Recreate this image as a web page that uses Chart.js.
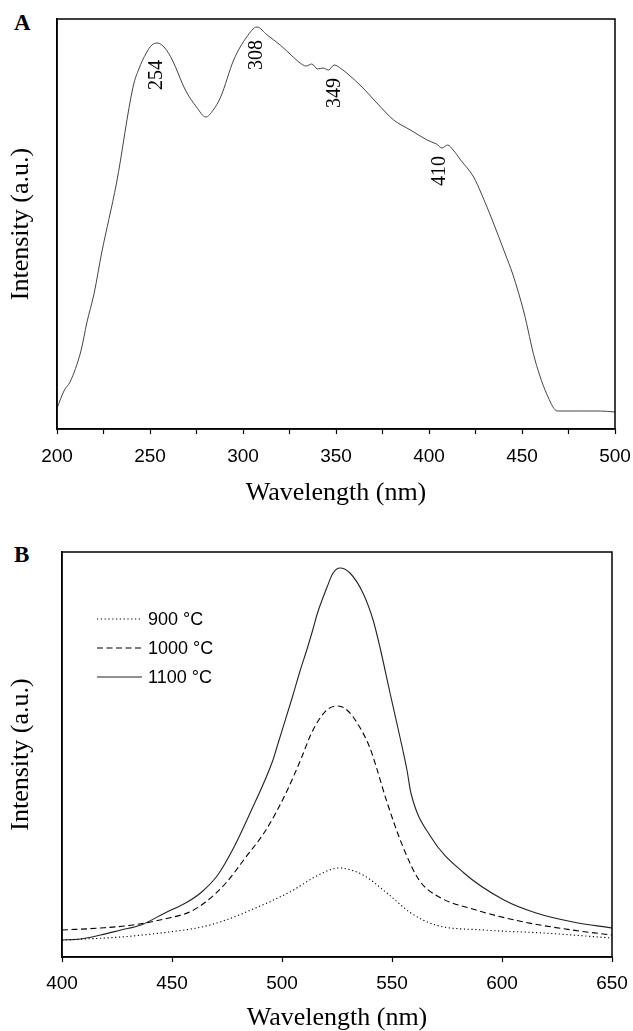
<!DOCTYPE html>
<html>
<head>
<meta charset="utf-8">
<script src="https://cdn.jsdelivr.net/npm/chart.js@4.4.1/dist/chart.umd.min.js"></script>
<style>
  body { margin: 0; background: #fff; width: 633px; height: 1031px; position: relative; overflow: hidden; }
  .box { position: absolute; left: 0; width: 633px; }
  #boxA { top: 0; height: 520px; }
  #boxB { top: 520px; height: 511px; }
  .tag { position: absolute; font: bold 23px "Liberation Serif", serif; color: #000; }
</style>
</head>
<body>
<div class="tag" style="left:14px;top:10px;">A</div>
<div class="tag" style="left:14px;top:542px;">B</div>
<div class="box" id="boxA"><canvas id="chartA" width="633" height="520"></canvas></div>
<div class="box" id="boxB"><canvas id="chartB" width="633" height="511"></canvas></div>
<script>
// panel A: excitation spectrum
const wavelengthA = [200,204,207,213,216,220,224,232,241,244,248,251,254,258,262,269,275,280,284,288,
  295,302,307.5,313,320,327,330,334,337,340,343,346,349,353,357,364,372,381,390,399,
  404,407,410,413,417,424,428,434,441,445,451,457,464,469,480,492,500];
const intensityA = [21,39,47,79,106,136,176,246,343,360,376,384,386,381,369,339,322,312,319,332,
  369,392,402,394,384,372,367,363,365,360,361,359,364,360,354,342,326,309,299,289,
  285,281,284,279,269,252,236,209,175,155,117,69,32,18,18,18,17];
const peakLabels = ["254", "308", "349", "410"];
const peakWavelength = [253.8, 307.5, 349.5, 405.9];
const peakIntensity = [354, 374, 336, 258];

// panel B: emission spectra
const seriesNames = ["900 \u00B0C", "1000 \u00B0C", "1100 \u00B0C"];
const wl900 = [400,426.8,448.6,463.5,474.5,489,503.6,516.6,525.8,536.8,547.7,558.6,569.8,591.8,619,650];
const int900 = [17,20,25,30,37,50,65,82,89,82,64,44,32,27,24,19];
const wl1000 = [400,417.7,432.3,448.6,458,465.3,474.5,483.6,492.7,501.8,509,513,517,521,525.5,
  530,535,540,543,547.7,555,562.3,569.8,588.2,610,631.8,650];
const int1000 = [27,29,32,39,45,55,74,100,127,164,200,222,238,248,251,
  246,231,209,189,155,110,77,62,47,35,27,22];
const wl1100 = [400,408.5,417.6,426.8,435.9,446.8,457,463.5,470.8,478.2,485.5,495.9,497.7,505,508.2,
  511.4,514.1,516,520.5,523.2,526.4,530.9,536.8,541.4,544.5,549.1,553.6,556.8,558.6,567.7,
  582.7,600.9,615.5,632.3,650];
const int1100 = [17,18,22,27,32,44,55,65,82,110,144,197,210,262,286,
  308,328,343,370,384,389,384,364,337,310,264,220,187,164,120,
  84,57,44,35,29];

const toPoints = (xs, ys) => xs.map((x, i) => ({ x: x, y: ys[i] }));

const serif = "'Liberation Serif', 'Times New Roman', serif";
const sans = "'Liberation Sans', Arial, sans-serif";

const framePlugin = {
  id: "frame",
  afterDraw(chart) {
    const { ctx, chartArea } = chart;
    ctx.save();
    ctx.strokeStyle = "#000";
    ctx.lineWidth = 1.5;
    ctx.strokeRect(chartArea.left, chartArea.top, chartArea.right - chartArea.left, chartArea.bottom - chartArea.top);
    ctx.restore();
  },
};

const peakPlugin = {
  id: "peaks",
  afterDatasetsDraw(chart) {
    const { ctx, scales } = chart;
    ctx.save();
    ctx.font = "20px " + serif;
    ctx.fillStyle = "#000";
    ctx.textAlign = "center";
    ctx.textBaseline = "middle";
    peakLabels.forEach((txt, i) => {
      const px = scales.x.getPixelForValue(peakWavelength[i]);
      const py = scales.y.getPixelForValue(peakIntensity[i]);
      ctx.save();
      ctx.translate(px, py);
      ctx.rotate(-Math.PI / 2);
      ctx.fillText(txt, 0, 0);
      ctx.restore();
    });
    ctx.restore();
  },
};

const legendPlugin = {
  id: "lineLegend",
  afterDraw(chart) {
    const { ctx, chartArea } = chart;
    ctx.save();
    ctx.font = "18px " + sans;
    ctx.textBaseline = "middle";
    chart.data.datasets.forEach((ds, i) => {
      const y = chartArea.top + 67 + i * 29;
      const x0 = chartArea.left + 35;
      ctx.strokeStyle = ds.borderColor;
      ctx.lineWidth = ds.borderWidth;
      ctx.setLineDash(ds.borderDash || []);
      ctx.beginPath();
      ctx.moveTo(x0, y);
      ctx.lineTo(x0 + 45, y);
      ctx.stroke();
      ctx.setLineDash([]);
      ctx.fillStyle = "#000";
      ctx.fillText(ds.label, x0 + 51, y + 1);
    });
    ctx.restore();
  },
};

const axisX = (min, max, step, labelEvery, height, tickPad, titlePad) => ({
  type: "linear",
  min: min,
  max: max,
  afterFit: (s) => { s.height = height; s.paddingRight = 0; s.paddingLeft = 0; },
  ticks: {
    stepSize: step,
    autoSkip: false,
    maxRotation: 0,
    color: "#000",
    padding: tickPad,
    font: { family: sans, size: 19 },
    callback: (v) => (v % labelEvery === 0 ? v : ""),
  },
  grid: { display: true, drawOnChartArea: false, drawTicks: true, tickLength: 5, color: "#000", tickWidth: 1.2 },
  border: { display: true, color: "#000", width: 1.5 },
  title: { display: true, text: "Wavelength (nm)", color: "#000", font: { family: serif, size: 26 }, padding: { top: 0, bottom: titlePad } },
});

const axisY = (max, width) => ({
  type: "linear",
  min: 0,
  max: max,
  afterFit: (s) => { s.width = width; },
  ticks: { display: false },
  grid: { display: false },
  border: { display: true, color: "#000", width: 1.5 },
  title: { display: true, text: "Intensity (a.u.)", color: "#000", font: { family: serif, size: 26 }, padding: { top: 6, bottom: 0 } },
});

new Chart(document.getElementById("chartA").getContext("2d"), {
  type: "line",
  data: {
    datasets: [
      {
        label: "A",
        data: toPoints(wavelengthA, intensityA),
        borderColor: "#444",
        borderWidth: 1,
        pointRadius: 0,
        cubicInterpolationMode: "monotone",
      },
    ],
  },
  options: {
    responsive: false,
    animation: false,
    devicePixelRatio: 1,
    layout: { padding: { top: 19, right: 18, left: 0, bottom: 0 } },
    plugins: { legend: { display: false }, tooltip: { enabled: false } },
    scales: { x: axisX(200, 500, 25, 50, 91, 11, 11), y: axisY(410, 57) },
  },
  plugins: [framePlugin, peakPlugin],
});

new Chart(document.getElementById("chartB").getContext("2d"), {
  type: "line",
  data: {
    datasets: [
      { label: seriesNames[0], data: toPoints(wl900, int900), borderColor: "#000", borderWidth: 1.1, borderDash: [1.2, 2.6], pointRadius: 0, cubicInterpolationMode: "monotone" },
      { label: seriesNames[1], data: toPoints(wl1000, int1000), borderColor: "#000", borderWidth: 1.1, borderDash: [6, 3.5], pointRadius: 0, cubicInterpolationMode: "monotone" },
      { label: seriesNames[2], data: toPoints(wl1100, int1100), borderColor: "#222", borderWidth: 1.1, pointRadius: 0, cubicInterpolationMode: "monotone" },
    ],
  },
  options: {
    responsive: false,
    animation: false,
    devicePixelRatio: 1,
    layout: { padding: { top: 32, right: 21, left: 0, bottom: 0 } },
    plugins: { legend: { display: false }, tooltip: { enabled: false } },
    scales: { x: axisX(400, 650, 50, 50, 74, 10, -3), y: axisY(405, 62) },
  },
  plugins: [framePlugin, legendPlugin],
});
</script>
</body>
</html>
